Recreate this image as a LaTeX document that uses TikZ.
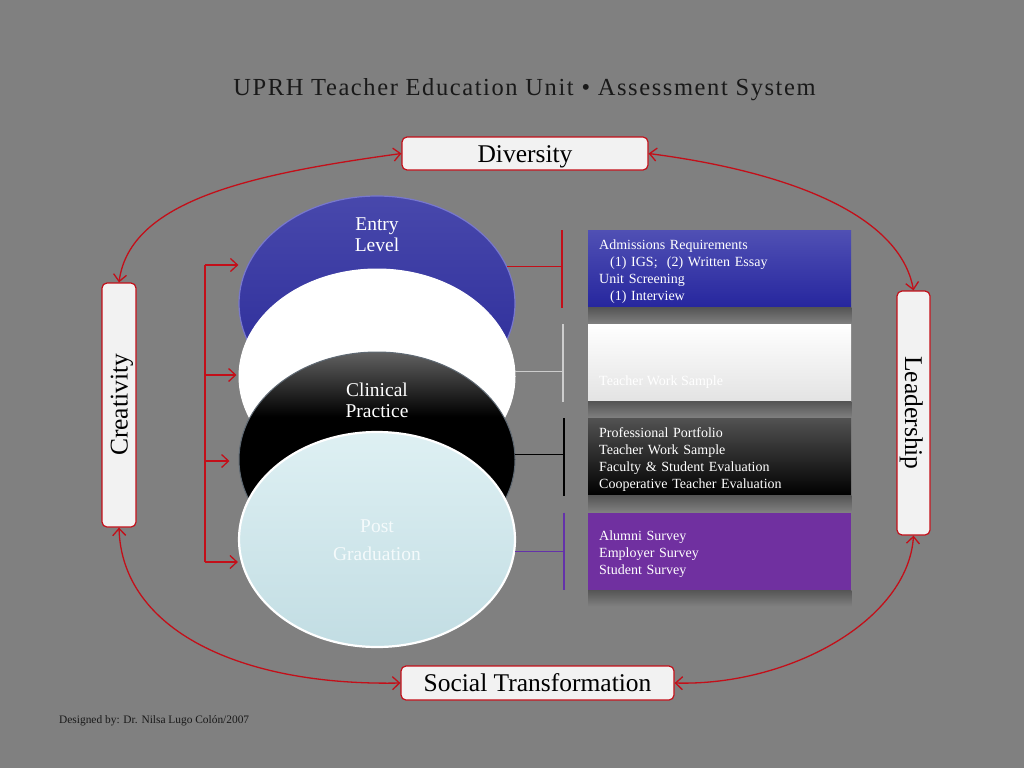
\documentclass[tikz,border=0pt]{standalone}
\usepackage{fontspec}
\setmainfont{Liberation Serif}
\newfontfamily\titlefont[LetterSpace=6.5]{Liberation Serif}
\usetikzlibrary{arrows.meta,shapes.geometric}
\definecolor{bgc}{RGB}{128,128,128}
\definecolor{arc}{RGB}{195,15,25}
\definecolor{boxf}{RGB}{242,242,242}
\definecolor{blueT}{RGB}{72,72,172}
\definecolor{blueB}{RGB}{40,40,150}
\definecolor{blueRim}{RGB}{120,120,205}
\definecolor{postT}{RGB}{222,240,243}
\definecolor{postB}{RGB}{194,221,227}
\definecolor{postTxt}{RGB}{244,250,251}
\definecolor{bxBT}{RGB}{80,80,180}
\definecolor{bxBB}{RGB}{38,38,158}
\definecolor{purp}{RGB}{112,48,160}
\definecolor{shc}{RGB}{86,86,86}
\definecolor{wline}{RGB}{205,205,205}
\definecolor{pline}{RGB}{100,50,170}
\definecolor{bkRim}{RGB}{95,105,115}
\definecolor{dark}{RGB}{25,25,25}
\pgfdeclareverticalshading{blkell}{100bp}{color(0bp)=(black); color(60bp)=(black); color(75bp)=(black!62); color(100bp)=(black!62)}
\newcommand\topfix{\rule{0pt}{14.5pt}}
\tikzset{
  lbl/.style={rectangle, rounded corners=5pt, fill=boxf, draw=arc, line width=1.2pt,
    inner sep=0pt, text=black, text height=17pt, text depth=0pt,
    font=\fontsize{25.5}{30}\selectfont},
  arcline/.style={draw=arc, line width=1.3pt,
    {Straight Barb[length=7pt,width=13pt]}-{Straight Barb[length=7pt,width=13pt]}},
  brk/.style={draw=arc, line width=1.3pt},
  brkarrow/.style={draw=arc, line width=1.3pt, -{Straight Barb[length=7pt,width=13pt]}},
  ell/.style={ellipse, minimum width=276pt, minimum height=215pt, inner sep=0pt},
  etext/.style={align=center, text=white, font=\fontsize{19.5}{21}\selectfont},
  infobox/.style={rectangle, anchor=north west, minimum width=263pt, minimum height=77.5pt,
    inner xsep=11pt, inner ysep=0pt, text width=241pt, align=left, text=white,
    font=\fontsize{14}{17}\selectfont},
  shadowbar/.style={top color=shc, bottom color=bgc, draw=none},
}
\begin{document}
\begin{tikzpicture}[x=1pt,y=-1pt]
\fill[bgc] (0,0) rectangle (1024,768);
\useasboundingbox (0,0) rectangle (1024,768);

% title and footer
\node[text=dark, font=\titlefont\fontsize{24.5}{28}\selectfont] (title) at (524.5,90)
  {UPRH Teacher Education Unit • Assessment System};
\node[text=dark, anchor=west, inner sep=0pt, font=\fontsize{11.4}{13}\selectfont] (foot) at (59,721)
  {Designed by: Dr. Nilsa Lugo Colón/2007};

% corner labels
\node[lbl, minimum width=246pt, minimum height=33pt] (div) at (525,153.5) {Diversity};
\node[lbl, minimum width=273pt, minimum height=34pt] (soc) at (537.5,683) {Social Transformation};
\node[lbl, rotate=90, minimum width=244pt, minimum height=34pt] (cre) at (119,405) {Creativity};
\node[lbl, rotate=-90, minimum width=244pt, minimum height=33pt] (lea) at (913.5,413) {Leadership};

% arcs
\draw[arcline] (div.west) .. controls (252,174) and (130,200) .. (cre.east);
\draw[arcline] (div.east) .. controls (790,172) and (900,215) .. (lea.west);
\draw[arcline] (cre.west) .. controls (122,630) and (240,686) .. (soc.west);
\draw[arcline] (lea.east) .. controls (908,620) and (790,686) .. (soc.east);

% ellipses
\node[ell, top color=blueT, bottom color=blueB, draw=blueRim, line width=1.2pt] (ent) at (377,303.5) {};
\node[ell, fill=white, draw=white, line width=1pt] (wh) at (377,376.5) {};
\node[ell, shading=blkell, draw=bkRim, line width=1pt] (bk) at (377,459.5) {};
\node[ell, top color=postT, bottom color=postB, draw=white, line width=2.2pt] (pg) at (377,539.5) {};

\node[etext] (entT) at (377,235) {Entry\\Level};
\node[etext] (bkT) at (377,400) {Clinical\\Practice};
\node[etext, text=postTxt, font=\fontsize{19.5}{28}\selectfont] (pgT) at (377,540) {Post\\Graduation};

% info boxes
\node[infobox, top color=bxBT, bottom color=bxBB] (b1) at (588,230)
  {\topfix Admissions Requirements\\\hspace*{11pt}(1) IGS;\ \ (2) Written Essay\\Unit Screening\\\hspace*{11pt}(1) Interview};
\node[infobox, top color=white, middle color=white, bottom color=gray!22] (b2) at (588,324) {};
\node[text=white, anchor=west, inner sep=0pt, font=\fontsize{14}{17}\selectfont] (b2T) at (599,382) {Teacher Work Sample};
\node[infobox, top color=black!68, middle color=black, bottom color=black] (b3) at (588,418)
  {\topfix Professional Portfolio\\Teacher Work Sample\\Faculty \& Student Evaluation\\Cooperative Teacher Evaluation};
\node[infobox, fill=purp] (b4) at (588,512.5)
  {\topfix Alumni Survey\\Employer Survey\\Student Survey};

% shadows under boxes
\foreach \b in {b1,b2,b3,b4}{
  \fill[shadowbar] (\b.south west) rectangle ([yshift=-16pt]\b.south east);
}

% bracket lines to boxes
\coordinate (xR) at (562,0);
\coordinate (xW) at (563,0);
\coordinate (xK) at (564,0);
\coordinate (xP) at (564,0);
\draw[draw=arc, line width=1.3pt] (ent.16) -- (ent.16 -| xR);
\draw[draw=arc, line width=1.3pt] (b1.north west -| xR) -- (b1.south west -| xR);
\draw[draw=wline, line width=1.3pt] (wh.2) -- (wh.2 -| xW);
\draw[draw=wline, line width=1.3pt] (b2.north west -| xW) -- (b2.south west -| xW);
\draw[draw=black, line width=1.3pt] (bk.2) -- (bk.2 -| xK);
\draw[draw=black, line width=1.3pt] (b3.north west -| xK) -- (b3.south west -| xK);
\draw[draw=pline, line width=1.3pt] (pg.-5) -- (pg.-5 -| xP);
\draw[draw=pline, line width=1.3pt] (b4.north west -| xP) -- (b4.south west -| xP);

% left bracket
\coordinate (lb1) at (205,265);
\coordinate (lb2) at (205,375);
\coordinate (lb3) at (205,461);
\coordinate (lb4) at (205,562);
\draw[brk] (lb1) -- (lb4);
\draw[brkarrow] (lb1) -- (ent.west |- lb1);
\draw[brkarrow] (lb2) -- ([xshift=-2pt]wh.west |- lb2);
\draw[brkarrow] (lb3) -- ([xshift=-9pt]bk.west |- lb3);
\draw[brkarrow] (lb4) -- (pg.west |- lb4);
\end{tikzpicture}
\end{document}
